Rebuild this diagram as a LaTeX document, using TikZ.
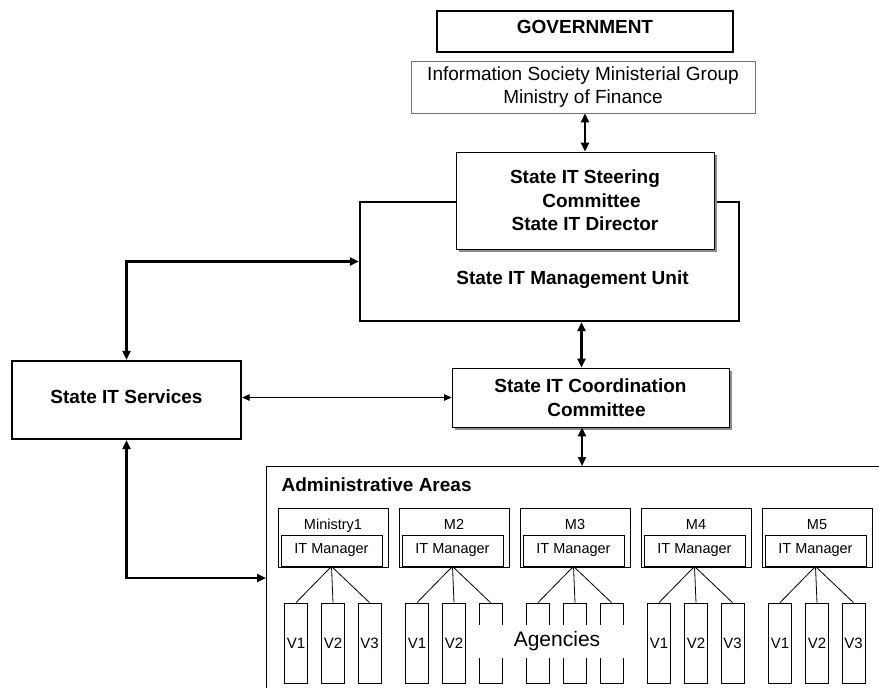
\documentclass[tikz,border=0pt]{standalone}
\usepackage{fontspec}
\setmainfont{Liberation Sans}
\usetikzlibrary{arrows.meta, shadows}

\begin{document}
\begin{tikzpicture}[x=1pt, y=-1pt,
    big/.style={font=\fontsize{19}{23.5}\selectfont\bfseries},
    small/.style={font=\fontsize{14.5}{17}\selectfont},
    box/.style={draw, line width=0.9pt, inner sep=0pt, align=center},
    shade/.style={drop shadow={shadow xshift=2.5pt, shadow yshift=-2.5pt, fill=black!45, opacity=1}},
    link/.style={arrows={Triangle[length=9pt, width=8pt]-Triangle[length=9pt, width=8pt]}, line width=2.2pt},
    thinlink/.style={arrows={Triangle[length=7.5pt, width=6.5pt]-Triangle[length=7.5pt, width=6.5pt]}, line width=1pt},
    vbox/.style={draw, line width=0.8pt, minimum width=23pt, minimum height=80pt, inner sep=0pt, font=\fontsize{15}{17}\selectfont}]
  \useasboundingbox (0,0) rectangle (879,688);

  % top of the hierarchy
  \node[box, line width=1.2pt, big, minimum width=296pt, minimum height=41pt, text depth=9pt] (gov) at (585,31.5) {GOVERNMENT};
  \node[box, draw=black!55, line width=0.8pt, font=\fontsize{19}{23}\selectfont, minimum width=344pt, minimum height=52pt] (info) at (583,87) {Information Society Ministerial Group\\Ministry of Finance};

  % management unit with the steering committee inside
  \node[box, line width=2.2pt, minimum width=379pt, minimum height=119pt] (mgmt) at (549.5,261.5) {};
  \node[box, fill=white, shade, big, minimum width=258pt, minimum height=97pt] (steer) at (585,200.5) {State IT Steering\\\hspace*{13pt}Committee\\State IT Director};
  \node[big, anchor=base] (mgmtlabel) at (572.5,284) {State IT Management Unit};

  \node[box, fill=white, shade, big, minimum width=277pt, minimum height=59pt] (coord) at (590.5,397.5) {State IT Coordination\\\hspace*{12pt}Committee};
  \node[box, line width=2.2pt, big, minimum width=229pt, minimum height=78pt, text depth=7pt] (serv) at (126.5,400) {State IT Services};

  % administrative areas (runs off the page)
  \coordinate (admintl) at (266,466);
  \coordinate (adminbl) at (266,688);
  \coordinate (admintr) at (879,466);
  \coordinate (adminleft) at (266,578);
  \draw[line width=0.9pt] (adminbl) |- (admintr);
  \node[big, anchor=base west] (admintitle) at (278,491) {Administrative Areas};

  \foreach \i/\name in {1/Ministry1, 2/M2, 3/M3, 4/M4, 5/M5} {
    \pgfmathsetmacro\xc{333+121*(\i-1)}
    \node[box, line width=0.8pt, minimum width=110pt, minimum height=59pt] (min\i) at (\xc,537.5) {};
    \node[small, anchor=base] (minlabel\i) at (\xc,529.5) {\name};
    \node[box, line width=0.8pt, small, minimum width=101pt, minimum height=31pt] (mgr\i) at (\xc-1.5,550.5) {IT Manager};
    \foreach \k/\dx in {1/-37, 2/0, 3/36.5} {
      \pgfmathtruncatemacro\hide{(\i==3)||((\i==2)&&(\k==3))}
      \node[vbox] (v\i\k) at (\xc+\dx,643) {\ifnum\hide=0 V\k\fi};
      \draw[line width=0.8pt] (mgr\i.south) -- (v\i\k.north);
    }
  }
  \node[fill=white, minimum width=158pt, minimum height=33pt, inner sep=0pt, font=\fontsize{21}{24}\selectfont] (agencies) at (551,641.5) {\hspace*{12pt}Agencies};

  % connectors
  \draw[link] (steer.north) -- (steer.north |- info.south);
  \draw[link] ([xshift=-9pt]coord.north) -- ([xshift=-9pt]coord.north |- mgmt.south);
  \draw[link] ([xshift=-8.5pt]coord.south) -- ([xshift=-8.5pt]coord.south |- admintl);
  \draw[link] (serv.north) |- (mgmt.west);
  \draw[thinlink] (coord.west -| serv.east) -- (coord.west);
  \draw[link] (serv.south) |- (adminleft);
\end{tikzpicture}
\end{document}
